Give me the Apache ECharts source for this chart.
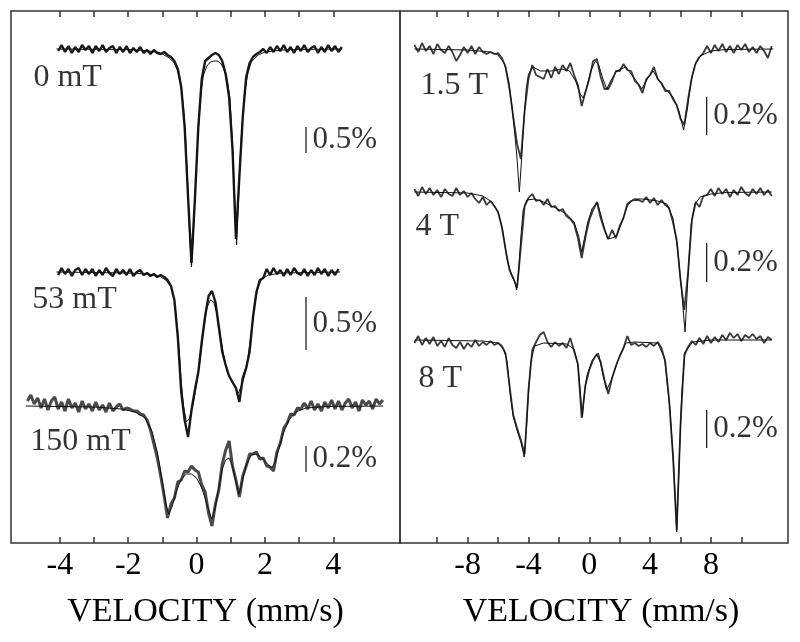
<!DOCTYPE html>
<html><head><meta charset="utf-8">
<script src="https://cdn.jsdelivr.net/npm/echarts@6/dist/echarts.min.js"></script>
<style>html,body{margin:0;padding:0;background:#fff}#c{width:800px;height:642px}</style>
</head><body><div id="c"></div>
<script>
// ---- velocity channels (mm/s) ----
const velocityLeft = Array.from({length: 105}, (_, i) => Math.round((-4.95 + 0.1 * i) * 100) / 100);
const velocityRight = Array.from({length: 95}, (_, i) => -11.5 + 0.25 * i);

// ---- axis ticks / labels ----
const leftTicks = [-4, -3, -2, -1, 0, 1, 2, 3, 4];
const leftTickLabels = [-4, -2, 0, 2, 4];
const rightTicks = [-10, -8, -6, -4, -2, 0, 2, 4, 6, 8, 10];
const rightTickLabels = [-8, -4, 0, 4, 8];

// ---- spectrum names and vertical offsets (arb. units) ----
const spectrumNames = ['0 mT', '53 mT', '150 mT', '1.5 T', '4 T', '8 T'];
const baselineOffsets = [494, 271, 137, 494, 351, 203];
const nameAnchorVel = [-4.79, -4.82, -4.88, -11.14, -11.47, -11.27];
const nameAnchorY = [465, 243, 101, 457, 316, 164];

// ---- measured absorption (arb. units, positive = dip) ----
// 0 mT: channels from -4.05 mm/s, step 0.1
const abs0mT = [2,-4,3,-3,4,-2,3,-4,1,-3,
 4,-3,2,-4,3,-1,-3,4,-2,3,
 -3,4,-1,3,-2,4,1,5,1,4,
 5,3,6,8,12,20,38,78,148,214,
 150,78,30,12,9,6,4,6,12,25,
 48,100,190,128,68,28,14,8,5,3,
 0,4,-2,3,-3,2,-4,3,-2,4,
 -3,2,-4,3,-1,-3,4,-2,3,-4,
 2,-3,3,-2];
// 53 mT: channels from -4.05 mm/s, step 0.1
const abs53mT = [3,-4,2,-3,4,-2,-4,3,-3,2,
 -3,4,-2,3,-4,1,4,-3,2,-2,
 3,-3,4,0,-2,3,1,4,2,5,
 3,5,8,14,28,65,120,148,165,138,
 118,100,70,44,24,19,30,55,80,93,
 104,110,116,130,106,96,80,45,20,8,
 6,-3,3,-4,2,-2,4,-3,3,-4,
 1,3,-3,4,-2,3,-4,2,-3,4,
 -2,3,-3];
// 150 mT: channels from -4.95 mm/s, step 0.1
const abs150mT = [-5,-11,-2,-8,2,-7,4,-5,-9,3,
 -4,5,-7,2,-3,6,-5,3,-2,5,
 -4,4,-1,6,-3,5,1,-2,4,2,
 3,5,5,8,9,14,24,38,52,70,
 90,112,98,92,76,74,65,66,60,64,
 66,79,86,107,120,98,84,58,44,35,
 60,74,91,70,60,48,48,46,53,52,
 60,61,65,46,37,22,17,8,9,2,
 3,-3,3,-5,4,-2,5,-4,2,-6,
 3,-5,4,-3,-7,2,-4,5,-6,-1,
 -5,3,-7,-2,-6];
// 1.5 T, 4 T, 8 T: channels from -11.5 mm/s, step 0.25
const abs1p5T = [-4,3,-6,2,-3,5,-5,1,4,-3,
 3,12,6,-2,4,-3,5,-2,3,5,
 3,5,4,9,18,40,68,95,110,62,
 30,16,26,28,30,20,29,18,25,16,
 22,14,26,36,57,43,30,12,10,28,
 40,40,32,22,22,15,21,22,32,36,
 44,30,26,18,30,34,42,42,50,56,
 70,76,50,28,14,8,4,-3,4,-4,
 2,-5,3,-3,4,-4,1,-5,3,-2,
 4,-3,2,9,-3];
const abs4T = [-3,4,-5,2,-4,3,-2,5,-3,2,
 4,-4,3,-1,5,1,7,11,5,13,
 9,14,20,35,58,78,86,96,55,14,
 6,2,9,8,13,7,15,14,19,17,
 24,27,32,46,66,45,28,18,10,26,
 38,47,38,46,34,26,12,9,8,8,
 10,5,11,6,13,8,13,16,30,48,
 88,118,80,28,10,15,4,3,-3,4,
 -4,2,-3,5,-2,3,-5,1,4,-3,
 2,-4,3,-2,4];
const abs8T = [3,-4,5,-2,4,-3,6,1,7,-2,
 5,8,2,9,3,7,0,6,2,5,
 1,5,3,6,14,45,75,88,100,114,
 50,10,2,-5,-8,2,7,2,6,3,
 8,-2,11,24,78,45,30,20,14,22,
 40,54,38,26,16,8,-4,5,3,6,
 4,7,3,6,2,8,22,60,115,190,
 85,15,7,1,5,-2,4,-4,3,-3,
 2,-5,0,-7,-2,-6,1,-5,-2,-6,
 -1,-4,3,-3,0];

// ---- fitted curves [velocity, absorption] ----
const fit0mT = [[-4.1,0],[-2,0.5],[-1.5,1.5],[-1.2,3],[-1.0,5],[-0.8,9],[-0.65,14],[-0.55,22],[-0.45,38],[-0.38,60],[-0.32,90],[-0.25,145],[-0.2,190],[-0.15,218],[-0.1,188],[-0.05,150],[0,112],[0.05,81],[0.1,56],[0.15,38],[0.2,26],[0.3,17],[0.4,13],[0.5,12],[0.6,12],[0.7,14],[0.8,20],[0.9,32],[0.97,48],[1.02,75],[1.07,110],[1.12,155],[1.17,196],[1.22,155],[1.27,112],[1.32,81],[1.4,45],[1.5,24],[1.6,13],[1.8,6],[2.0,3],[2.5,1],[3,0.5],[4.25,0]];
const fit53mT = [[-4.1,0],[-2,1],[-1.4,2],[-1.1,4],[-0.9,8],[-0.75,15],[-0.65,28],[-0.55,60],[-0.45,110],[-0.38,135],[-0.3,150],[-0.22,147],[-0.15,140],[-0.08,128],[0,112],[0.1,88],[0.2,58],[0.3,36],[0.4,28],[0.5,30],[0.6,42],[0.7,65],[0.8,85],[0.9,100],[1.0,108],[1.1,114],[1.22,121],[1.32,113],[1.4,104],[1.5,86],[1.6,60],[1.7,32],[1.8,15],[1.9,7],[2.1,3],[2.5,1],[4.2,0]];
const fit150mT = [[-5,0],[-3,1],[-2.2,3],[-1.8,6],[-1.5,12],[-1.3,26],[-1.15,46],[-1.0,76],[-0.9,98],[-0.82,108],[-0.72,101],[-0.6,86],[-0.45,73],[-0.3,68],[-0.15,68],[0,72],[0.15,82],[0.3,98],[0.44,113],[0.55,101],[0.65,81],[0.75,63],[0.85,54],[0.95,52],[1.05,60],[1.15,76],[1.24,88],[1.33,76],[1.45,59],[1.6,49],[1.75,48],[1.9,52],[2.05,57],[2.19,62],[2.3,56],[2.4,43],[2.55,26],[2.7,14],[2.9,6],[3.2,2],[3.8,0.5],[5.46,0]];
const fit1p5T = [[-11.5,0],[-8,1],[-6.5,3],[-6,6],[-5.6,14],[-5.3,32],[-5.1,55],[-4.9,85],[-4.75,110],[-4.6,143],[-4.45,110],[-4.3,70],[-4.15,40],[-4,25],[-3.7,18],[-3.2,22],[-2.5,22],[-1.8,20],[-1.3,22],[-0.9,32],[-0.6,45],[-0.4,49],[-0.2,40],[0.1,22],[0.4,12],[0.6,15],[0.9,30],[1.15,40],[1.4,32],[1.8,22],[2.4,18],[3.0,30],[3.45,40],[3.9,28],[4.2,22],[4.6,32],[5.0,40],[5.5,48],[5.9,62],[6.2,81],[6.45,60],[6.7,32],[6.95,16],[7.3,7],[8,2],[9,0.5],[12.1,0]];
const fit4T = [[-11.5,0],[-8,1],[-7,4],[-6.4,10],[-6,20],[-5.7,38],[-5.4,68],[-5.1,84],[-4.9,90],[-4.78,98],[-4.65,80],[-4.5,45],[-4.35,18],[-4.1,8],[-3.6,7],[-3,10],[-2.2,16],[-1.5,22],[-1,30],[-0.7,44],[-0.5,60],[-0.3,45],[-0.1,30],[0.2,16],[0.55,11],[0.85,28],[1.2,47],[1.5,46],[1.8,44],[2.1,32],[2.5,14],[2.9,7],[3.5,7],[4.5,9],[5.1,12],[5.5,26],[5.8,55],[6.05,95],[6.3,140],[6.5,82],[6.7,32],[6.95,12],[7.3,5],[8,2],[9,0.5],[12,0]];
const fit8T = [[-11.5,0],[-7,1],[-6,3],[-5.6,10],[-5.4,22],[-5.2,55],[-5.0,77],[-4.7,93],[-4.5,102],[-4.28,117],[-4.12,85],[-4.0,53],[-3.85,22],[-3.6,6],[-3,3],[-1.5,4],[-1,9],[-0.75,25],[-0.6,50],[-0.45,77],[-0.3,50],[-0.15,35],[0.2,20],[0.6,13],[0.9,35],[1.14,50],[1.45,40],[1.9,20],[2.4,3],[3,2],[4.5,3],[4.95,18],[5.3,68],[5.55,125],[5.75,192],[5.92,120],[6.08,53],[6.3,12],[6.8,2],[8,0],[12,0]];

// ---- scale bars (velocity, top, bottom in arb. units) ----
const scaleBarVel = [3.2, 3.2, 3.2, 7.72, 7.72, 7.72];
const scaleBarTop = [416, 246, 97, 446, 300, 133];
const scaleBarBottom = [390, 193, 71, 408, 261, 95];
const scaleBarText = ['0.5%', '0.5%', '0.2%', '0.2%', '0.2%', '0.2%'];

// ---- assembly ----
const FONT = '"Liberation Serif","Times New Roman",serif';
const measured = [abs0mT, abs53mT, abs150mT, abs1p5T, abs4T, abs8T];
const fits = [fit0mT, fit53mT, fit150mT, fit1p5T, fit4T, fit8T];
const panelOf = [0, 0, 0, 1, 1, 1];
const startIndex = [9, 9, 0, 0, 0, 0];
const dataColor = ['#1a1a1a', '#1a1a1a', '#4a4a4a', '#3a3a3a', '#3a3a3a', '#3a3a3a'];
const dataWidth = [2.4, 2.4, 3, 1.8, 1.8, 1.8];

const series = [];
measured.forEach((arr, k) => {
  const p = panelOf[k];
  const vel = p === 0 ? velocityLeft : velocityRight;
  const off = baselineOffsets[k];
  series.push({
    type: 'line', xAxisIndex: p * 2, yAxisIndex: p, showSymbol: false, z: 2,
    lineStyle: {color: dataColor[k], width: dataWidth[k]},
    data: arr.map((a, i) => [vel[startIndex[k] + i], off - a])
  });
  series.push({
    type: 'line', xAxisIndex: p * 2, yAxisIndex: p, showSymbol: false, z: 3,
    lineStyle: {color: '#111', width: 1},
    data: fits[k].map(([v, a]) => [v, off - a])
  });
  series.push({
    type: 'scatter', xAxisIndex: p * 2, yAxisIndex: p, symbolSize: 1, z: 4,
    itemStyle: {color: 'rgba(0,0,0,0)'},
    label: {show: true, position: 'right', distance: 0, formatter: spectrumNames[k],
      fontSize: 32, fontFamily: FONT, color: '#000'},
    data: [[nameAnchorVel[k], nameAnchorY[k]]]
  });
  series.push({
    type: 'line', xAxisIndex: p * 2, yAxisIndex: p, showSymbol: false, z: 4,
    lineStyle: {color: '#222', width: 1.3},
    data: [[scaleBarVel[k], scaleBarTop[k]], [scaleBarVel[k], scaleBarBottom[k]]]
  });
  series.push({
    type: 'scatter', xAxisIndex: p * 2, yAxisIndex: p, symbolSize: 1, z: 4,
    itemStyle: {color: 'rgba(0,0,0,0)'},
    label: {show: true, position: 'right', distance: 6, formatter: scaleBarText[k],
      fontSize: 31, fontFamily: FONT, color: '#000'},
    data: [[scaleBarVel[k], (scaleBarTop[k] + scaleBarBottom[k]) / 2]]
  });
});

function xAxes(grid, min, max, ticks, labels, namePad) {
  const tick = {show: true, inside: true, length: 6, customValues: ticks, lineStyle: {color: '#333', width: 1.5}};
  return [{
    type: 'value', gridIndex: grid, min, max, position: 'bottom',
    axisLine: {show: false}, splitLine: {show: false}, axisTick: tick,
    axisLabel: {show: true, customValues: labels, margin: 7, fontSize: 32, fontFamily: FONT, color: '#000'},
    name: 'VELOCITY (mm/s)', nameLocation: 'middle', nameGap: 52,
    nameTextStyle: {fontSize: 34, fontFamily: FONT, color: '#000', padding: namePad}
  }, {
    type: 'value', gridIndex: grid, min, max, position: 'top',
    axisLine: {show: false}, splitLine: {show: false}, axisTick: tick,
    axisLabel: {show: false}
  }];
}

const chart = echarts.init(document.getElementById('c'), null, {renderer: 'canvas'});
chart.setOption({
  animation: false,
  backgroundColor: '#fff',
  grid: [
    {left: 11, top: 11, width: 389, height: 532, show: true, borderColor: '#333', borderWidth: 1.5},
    {left: 400, top: 11, width: 388, height: 532, show: true, borderColor: '#333', borderWidth: 1.5}
  ],
  xAxis: [...xAxes(0, -5.43, 5.95, leftTicks, leftTickLabels, [0, 0, 0, 0]),
          ...xAxes(1, -12.45, 13.07, rightTicks, rightTickLabels, [0, 0, 0, 14])],
  yAxis: [
    {type: 'value', gridIndex: 0, min: 0, max: 532, show: false},
    {type: 'value', gridIndex: 1, min: 0, max: 532, show: false}
  ],
  series
});
</script></body></html>
